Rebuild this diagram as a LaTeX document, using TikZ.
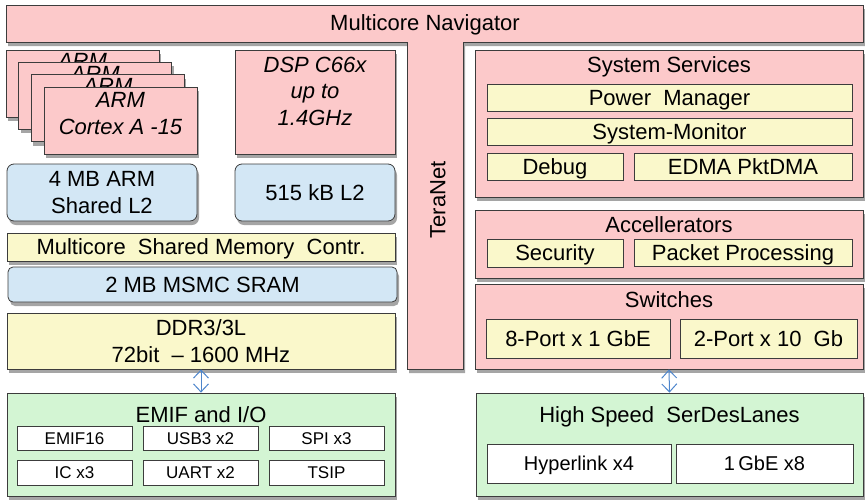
\documentclass[tikz,border=0pt]{standalone}
\usepackage{fontspec}
\setmainfont{Liberation Sans}
\usetikzlibrary{arrows.meta,positioning,calc,shadows}
\definecolor{NavPink}{HTML}{FCC9CA}
\definecolor{MemYellow}{HTML}{FAF8CB}
\definecolor{MemBlue}{HTML}{D3E7F5}
\definecolor{IoGreen}{HTML}{D3F5D3}
\definecolor{EdgeGray}{HTML}{3C3C3C}
\definecolor{LinkBlue}{HTML}{4E86CC}
\tikzset{
  shade/.style={drop shadow={shadow xshift=2pt,shadow yshift=-4pt,opacity=.5,fill=black!70}},
  blk/.style={draw=EdgeGray,line width=.8pt,inner sep=0pt,text depth=0pt,shade},
  pinkbox/.style={blk,fill=NavPink},
  yelbox/.style={blk,fill=MemYellow},
  bluebox/.style={blk,fill=MemBlue,rounded corners=7pt},
  grnbox/.style={blk,fill=IoGreen},
  subbox/.style={draw=EdgeGray,line width=.7pt,inner sep=0pt,text depth=0pt},
  wbox/.style={subbox,fill=white,font=\fontsize{17}{20}\selectfont},
  ybox/.style={subbox,fill=MemYellow},
  title/.style={anchor=north,inner sep=0pt},
  ital/.style={title,align=center,font=\fontsize{22}{26.5}\selectfont\itshape},
  link/.style={LinkBlue,line width=1pt,{Straight Barb[length=8pt,width=15pt]}-{Straight Barb[length=8pt,width=15pt]}}
}
\begin{document}
\begin{tikzpicture}[x=1pt,y=-1pt,font=\fontsize{22}{26.5}\selectfont]
  \useasboundingbox (0,0) rectangle (865,501);
  % navigator + teranet
  \fill[NavPink,draw=EdgeGray,line width=.8pt,shade]
    (6,5) -- (863,5) -- (863,42) -- (463,42) -- (463,369) -- (407,369)
    -- (407,42) -- (6,42) -- cycle;
  \node (nav) at (425,25) {Multicore Navigator};
  \node[rotate=90] (tera) at (438,200) {TeraNet};

  % ARM cluster
  \foreach \i in {0,1,2} {
    \node[pinkbox,minimum width=153pt,minimum height=67pt] (arm\i)
      at (82.5+12.7*\i,83.5+12.3*\i) {};
    \node[ital] at ($(arm\i.north)+(0,4)$) {ARM};
  }
  \node[pinkbox,minimum width=153pt,minimum height=67pt] (arm3) at (120.5,120.5) {};
  \node[ital] (armtxt) at ($(arm3.north)+(0,6)$) {ARM\\Cortex A -15};
  \node[pinkbox,minimum width=160pt,minimum height=104pt] (dsp) at (315,102) {};
  \node[ital] (dsptxt) at ($(dsp.north)+(0,7)$) {DSP C66x\\up to\\1.4GHz};

  \node[bluebox,minimum width=190pt,minimum height=57pt,align=center] (l2arm)
    at (102,192.5) {4 MB ARM\\Shared L2};
  \node[bluebox,minimum width=160pt,minimum height=57pt] (l2dsp) at (315,192.5) {515 kB L2};
  \node[yelbox,minimum width=388pt,minimum height=28pt] (msmctl) at (201,247)
    {Multicore~ Shared Memory~ Contr.};
  \node[bluebox,rounded corners=5pt,minimum width=389pt,minimum height=35pt] (msmc)
    at (202.5,284.5) {2 MB MSMC SRAM};
  \node[yelbox,minimum width=388pt,minimum height=56pt,align=center] (ddr)
    at (201,341) {DDR3/3L\\72bit~ -- 1600 MHz};

  % EMIF and I/O
  \node[grnbox,minimum width=388pt,minimum height=103pt] (emif) at (201,444.5) {};
  \node[title] at ($(emif.north)+(0,14)$) {EMIF and I/O};
  \node[wbox,minimum width=115pt,minimum height=24pt] (emif16) at (74.5,438.5) {EMIF16};
  \node[wbox,minimum width=115pt,minimum height=24pt] (usb) at (200.5,438.5) {USB3 x2};
  \node[wbox,minimum width=115pt,minimum height=24pt] (spi) at (326.5,438.5) {SPI x3};
  \node[wbox,minimum width=115pt,minimum height=25pt] (ic) at (74.5,472.5) {IC x3};
  \node[wbox,minimum width=115pt,minimum height=25pt] (uart) at (200.5,472.5) {UART x2};
  \node[wbox,minimum width=115pt,minimum height=25pt] (tsip) at (326.5,472.5) {TSIP};

  % system services
  \node[pinkbox,minimum width=388pt,minimum height=147pt] (sys) at (669,123.5) {};
  \node[title] at ($(sys.north)+(0,7)$) {System Services};
  \node[ybox,minimum width=365pt,minimum height=27pt] (pwr) at (669.5,97.5) {Power~ Manager};
  \node[ybox,minimum width=365pt,minimum height=27pt] (mon) at (669.5,131.5) {System-Monitor};
  \node[ybox,minimum width=136pt,minimum height=27pt] (dbg) at (555,166.5) {Debug};
  \node[ybox,minimum width=218pt,minimum height=27pt] (edma) at (743,166.5) {EDMA PktDMA};

  % accelerators
  \node[pinkbox,minimum width=388pt,minimum height=68pt] (acc) at (669,244) {};
  \node[title] at ($(acc.north)+(0,7)$) {Accellerators};
  \node[ybox,minimum width=136pt,minimum height=28pt] (sec) at (555,253) {Security};
  \node[ybox,minimum width=218pt,minimum height=27pt] (pkt) at (743,252.5) {Packet Processing};

  % switches
  \node[pinkbox,minimum width=388pt,minimum height=85pt] (sw) at (669,326.5) {};
  \node[title] at ($(sw.north)+(0,8)$) {Switches};
  \node[ybox,minimum width=184pt,minimum height=39pt] (sw8) at (578,338.5) {8-Port x 1 GbE};
  \node[ybox,minimum width=177pt,minimum height=39pt] (sw2) at (768.5,338.5) {2-Port x 10~ Gb};

  % serdes
  \node[grnbox,minimum width=387pt,minimum height=103pt] (serdes) at (669.5,444.5) {};
  \node[title] at ($(serdes.north)+(0,14)$) {High Speed~ SerDesLanes};
  \node[wbox,font=\fontsize{20}{24}\selectfont,minimum width=184pt,minimum height=39pt] (hyp)
    at (579,463.5) {Hyperlink x4};
  \node[wbox,font=\fontsize{20}{24}\selectfont,minimum width=177pt,minimum height=39pt] (gbe)
    at (764.5,463.5) {1\,GbE x8};

  \draw[link] (ddr) -- (emif);
  \draw[link] (sw.south) -- (serdes.north);
\end{tikzpicture}
\end{document}
